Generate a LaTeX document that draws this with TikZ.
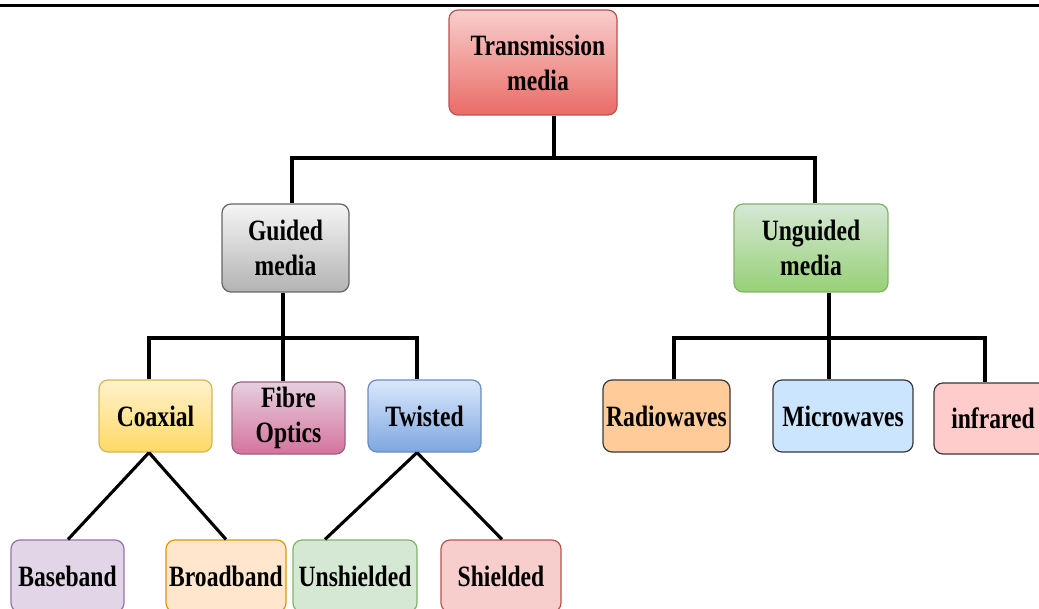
\documentclass[tikz,border=0pt]{standalone}
\usepackage{fontspec}
\newfontfamily\condfont[FakeStretch=0.8]{Liberation Serif}
\definecolor{trT}{HTML}{F8CECC}\definecolor{trB}{HTML}{EA6B66}\definecolor{trD}{HTML}{B85450}
\definecolor{gyT}{HTML}{F5F5F5}\definecolor{gyB}{HTML}{B3B3B3}\definecolor{gyD}{HTML}{666666}
\definecolor{gnT}{HTML}{D5E8D4}\definecolor{gnB}{HTML}{97D077}\definecolor{gnD}{HTML}{82B366}
\definecolor{ylT}{HTML}{FFF2CC}\definecolor{ylB}{HTML}{FFD966}\definecolor{ylD}{HTML}{D6B656}
\definecolor{pkT}{HTML}{E6D0DE}\definecolor{pkB}{HTML}{D5739D}\definecolor{pkD}{HTML}{996185}
\definecolor{blT}{HTML}{DAE8FC}\definecolor{blB}{HTML}{7EA6E0}\definecolor{blD}{HTML}{6C8EBF}
\definecolor{orF}{HTML}{FFCC99}\definecolor{ltbF}{HTML}{CCE5FF}\definecolor{ltpF}{HTML}{FFCCCC}\definecolor{dkD}{HTML}{36393D}
\definecolor{lvF}{HTML}{E1D5E7}\definecolor{lvD}{HTML}{9673A6}
\definecolor{peF}{HTML}{FFE6CC}\definecolor{peD}{HTML}{D79B00}
\definecolor{sgF}{HTML}{D5E8D4}\definecolor{sgD}{HTML}{82B366}
\definecolor{rsF}{HTML}{F8CECC}\definecolor{rsD}{HTML}{B85450}
\tikzset{
  box/.style={rounded corners=9pt, line width=1.2pt, align=center, inner sep=0pt,
    font=\condfont\bfseries\fontsize{29.5}{35}\selectfont, text=black},
  grad/.style n args={3}{box, top color=#1, bottom color=#2, draw=#3},
  flat/.style n args={2}{box, fill=#1, draw=#2},
  conn/.style={line width=3.1pt, black},
}
\begin{document}
\begin{tikzpicture}[x=1pt,y=-1pt]
\clip (0,0) rectangle (1039,609);
\fill[white] (0,0) rectangle (1039,609);
\coordinate (tl) at (0,6);
\coordinate (tr) at (1039,6);
\draw[line width=3pt] (tl) -- (tr);

% level 0
\node[grad={trT}{trB}{trD}, minimum width=168pt, minimum height=105pt, text width=160pt] (T) at (533,62.5) {\hspace*{10pt}Transmission\\\hspace*{10pt}media};
% level 1
\node[grad={gyT}{gyB}{gyD}, minimum width=127pt, minimum height=88pt] (G) at (285.5,248) {Guided\\media};
\node[grad={gnT}{gnB}{gnD}, minimum width=154pt, minimum height=88pt] (U) at (811,248) {Unguided\\media};
% level 2
\node[grad={ylT}{ylB}{ylD}, minimum width=113pt, minimum height=72pt] (C) at (155.5,416) {Coaxial};
\node[grad={pkT}{pkB}{pkD}, minimum width=113pt, minimum height=72pt] (F) at (288.5,418) {Fibre\\Optics};
\node[grad={blT}{blB}{blD}, minimum width=113pt, minimum height=72pt] (W) at (424.5,416) {Twisted};
\node[flat={orF}{dkD}, minimum width=127pt, minimum height=72pt] (R) at (666.5,416) {Radiowaves};
\node[flat={ltbF}{dkD}, minimum width=140pt, minimum height=72pt] (M) at (843,416) {Microwaves};
\node[flat={ltpF}{dkD}, minimum width=118pt, minimum height=71pt] (I) at (993,418.5) {infrared};
% level 3
\node[flat={lvF}{lvD}, minimum width=113pt, minimum height=72pt] (BB) at (67.5,576) {Baseband};
\node[flat={peF}{peD}, minimum width=120pt, minimum height=72pt] (BR) at (226,576) {Broadband};
\node[flat={sgF}{sgD}, minimum width=124pt, minimum height=72pt] (US) at (355,576) {Unshielded};
\node[flat={rsF}{rsD}, minimum width=120pt, minimum height=72pt] (SH) at (501,576) {Shielded};

% bus coordinates
\coordinate (b0) at (554,158);
\coordinate (gx) at (292,0);
\coordinate (ux) at (815,0);
\coordinate (b1) at (283,338);
\coordinate (cx) at (149,0);
\coordinate (wx) at (417,0);
\coordinate (b2) at (829,338);
\coordinate (rx) at (674,0);
\coordinate (ix) at (985,0);

\draw[conn] (T.south -| b0) -- (b0);
\draw[conn] (gx |- G.north) |- (b0) -| (ux |- U.north);
\draw[conn] (G.south -| b1) -- (b1);
\draw[conn] (cx |- C.north) |- (b1) -| (wx |- W.north);
\draw[conn] (b1) -- (F.north -| b1);
\draw[conn] (U.south -| b2) -- (b2);
\draw[conn] (rx |- R.north) |- (b2) -| (ix |- I.north);
\draw[conn] (b2) -- (M.north -| b2);

\coordinate (bbx) at (68,0);
\coordinate (brx) at (226,0);
\coordinate (usx) at (325,0);
\coordinate (shx) at (502,0);
\draw[conn] (cx |- C.south) -- (bbx |- BB.north);
\draw[conn] (cx |- C.south) -- (brx |- BR.north);
\draw[conn] (wx |- W.south) -- (usx |- US.north);
\draw[conn] (wx |- W.south) -- (shx |- SH.north);
\end{tikzpicture}
\end{document}
